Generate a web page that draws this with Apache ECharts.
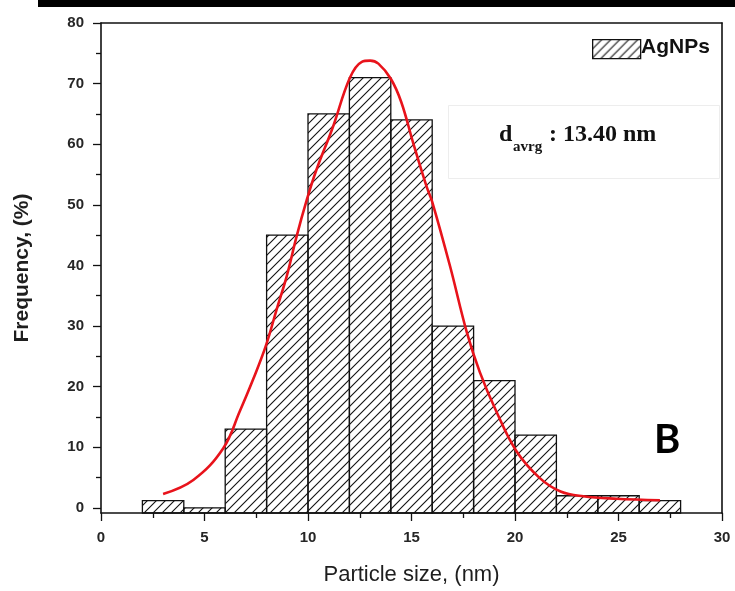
<!DOCTYPE html>
<html>
<head>
<meta charset="utf-8">
<script src="https://cdn.jsdelivr.net/npm/echarts@6/dist/echarts.min.js"></script>
<style>html,body{margin:0;padding:0;background:#fff}#c{width:735px;height:591px}</style>
</head>
<body>
<div id="c"></div>
<script>
// ---- data ----
const binLeft  = [2, 4, 6, 8, 10, 12, 14, 16, 18, 20, 22, 24, 26];
const binRight = [4, 6, 8, 10, 12, 14, 16, 18, 20, 22, 24, 26, 28];
const frequency = [1.2, 0, 13, 45, 65, 71, 64, 30, 21, 12, 2, 2, 1.2];
const fitX = [3.0, 4.46, 5.9, 6.7, 7.36, 7.97, 8.49, 8.97, 9.45, 9.94, 10.4, 11.2, 12.03, 12.6, 13.0, 13.4, 14.0, 14.5, 15.09, 15.73, 16.0, 16.86, 17.67, 18.3, 19.1, 20.08, 21.2, 22.2, 23.3, 24.9, 27.0];
const fitY = [2.3, 4.6, 9.8, 15.9, 21.3, 26.8, 32.8, 38.2, 44.8, 50.8, 55.7, 62.8, 71.0, 73.6, 73.8, 73.3, 70.8, 67.0, 60.1, 53.0, 50.5, 39.9, 29.0, 22.4, 15.9, 9.3, 4.9, 2.7, 1.9, 1.5, 1.25];
const yTickLabels = [0, 10, 20, 30, 40, 50, 60, 70, 80];
const yMinorTicks = [5, 15, 25, 35, 45, 55, 65, 75];
const Y_MIN = -0.85, Y_MAX = 80, X_MIN = 0, X_MAX = 30;

// hatch pattern
function makeHatch(s, color, w) {
  const c = document.createElement('canvas');
  c.width = s; c.height = s;
  const g = c.getContext('2d');
  g.strokeStyle = color; g.lineWidth = w;
  g.beginPath();
  g.moveTo(0, s); g.lineTo(s, 0);
  g.moveTo(-1, 1); g.lineTo(1, -1);
  g.moveTo(s - 1, s + 1); g.lineTo(s + 1, s - 1);
  g.stroke();
  return c;
}
const hatch = { image: makeHatch(9, '#111', 1.1), repeat: 'repeat' };

const barData = binLeft.map((l, i) => [l, binRight[i], frequency[i]]);
const fitData = fitX.map((x, i) => [x, fitY[i]]);

const labelFont = { fontFamily: 'Liberation Sans, Arial, sans-serif', fontWeight: 'bold', fontSize: 15, color: '#262626' };

const chart = echarts.init(document.getElementById('c'), null, { renderer: 'canvas' });
chart.setOption({
  backgroundColor: '#fff',
  animation: false,
  grid: { left: 101, right: 13, top: 23, bottom: 76 },
  xAxis: [
    {
      type: 'value', position: 'bottom', min: X_MIN, max: X_MAX, interval: 5,
      axisLine: { onZero: false, lineStyle: { color: '#111', width: 1.6 } },
      axisTick: { show: true, inside: false, length: 8, lineStyle: { color: '#111', width: 1.3 } },
      minorTick: { show: true, splitNumber: 2, length: 5, lineStyle: { color: '#111', width: 1.3 } },
      splitLine: { show: false },
      axisLabel: Object.assign({ margin: 17 }, labelFont),
      name: 'Particle size, (nm)', nameLocation: 'middle', nameGap: 51,
      nameTextStyle: { fontFamily: 'Liberation Sans, Arial, sans-serif', fontSize: 22, color: '#1e1e1e', fontWeight: 'normal' }
    },
    {
      type: 'value', position: 'top', min: X_MIN, max: X_MAX,
      axisLine: { show: true, onZero: false, lineStyle: { color: '#111', width: 1.6 } },
      axisTick: { show: false }, axisLabel: { show: false }, splitLine: { show: false }
    }
  ],
  yAxis: [
    {
      type: 'value', position: 'left', min: Y_MIN, max: Y_MAX,
      axisLine: { show: true, onZero: false, lineStyle: { color: '#111', width: 1.6 } },
      axisTick: { show: true, length: 8, customValues: yTickLabels, lineStyle: { color: '#111', width: 1.3 } },
      axisLabel: Object.assign({ margin: 17, customValues: yTickLabels }, labelFont),
      splitLine: { show: false },
      name: 'Frequency, (%)', nameLocation: 'middle', nameGap: 68, nameRotate: 90,
      nameTextStyle: { fontFamily: 'Liberation Sans, Arial, sans-serif', fontSize: 21, fontWeight: 'bold', color: '#1e1e1e' }
    },
    {
      type: 'value', position: 'left', min: Y_MIN, max: Y_MAX,
      axisLine: { show: false },
      axisTick: { show: true, length: 5, customValues: yMinorTicks, lineStyle: { color: '#111', width: 1.3 } },
      axisLabel: { show: false }, splitLine: { show: false }
    },
    {
      type: 'value', position: 'right', min: Y_MIN, max: Y_MAX,
      axisLine: { show: true, onZero: false, lineStyle: { color: '#111', width: 1.6 } },
      axisTick: { show: false }, axisLabel: { show: false }, splitLine: { show: false }
    }
  ],
  series: [
    {
      type: 'custom', name: 'AgNPs', xAxisIndex: 0, yAxisIndex: 0,
      data: barData,
      encode: { x: [0, 1], y: 2 },
      z: 2,
      renderItem: function (params, api) {
        const p0 = api.coord([api.value(0), api.value(2)]);
        const p1 = api.coord([api.value(1), Y_MIN]);
        return {
          type: 'rect',
          shape: { x: p0[0], y: p0[1], width: p1[0] - p0[0], height: p1[1] - p0[1] },
          style: { fill: hatch, stroke: '#111', lineWidth: 1.3 }
        };
      }
    },
    {
      type: 'line', name: 'fit', xAxisIndex: 0, yAxisIndex: 0,
      data: fitData, smooth: 0.4, showSymbol: false, z: 5,
      lineStyle: { color: '#e8131b', width: 2.6 }
    }
  ],
  graphic: [
    { type: 'rect', left: 38, top: 0, shape: { width: 697, height: 7 }, style: { fill: '#000' }, z: 10 },
    { type: 'rect', left: 448, top: 105, shape: { width: 271, height: 73 }, style: { fill: '#fff', stroke: '#ededed', lineWidth: 1 }, z: 8 },
    { type: 'text', left: 499, top: 123, style: { text: 'd', font: 'bold 24px "Liberation Serif", "Times New Roman", serif', fill: '#111' }, z: 9 },
    { type: 'text', left: 513, top: 140, style: { text: 'avrg', font: 'bold 15px "Liberation Serif", "Times New Roman", serif', fill: '#111' }, z: 9 },
    { type: 'text', left: 549, top: 123, style: { text: ': 13.40 nm', font: 'bold 24px "Liberation Serif", "Times New Roman", serif', fill: '#111' }, z: 9 },
    { type: 'rect', left: 592, top: 39, shape: { width: 48, height: 19 }, style: { fill: hatch, stroke: '#111', lineWidth: 1.3 }, z: 9 },
    { type: 'text', left: 641, top: 37, style: { text: 'AgNPs', font: 'bold 21px "Liberation Sans", Arial, sans-serif', fill: '#111' }, z: 9 },
    { type: 'text', left: 654, top: 420, style: { text: 'B', font: 'bold 40px Lato, "Open Sans", sans-serif', fill: '#000' }, z: 9 }
  ]
});
</script>
</body>
</html>
